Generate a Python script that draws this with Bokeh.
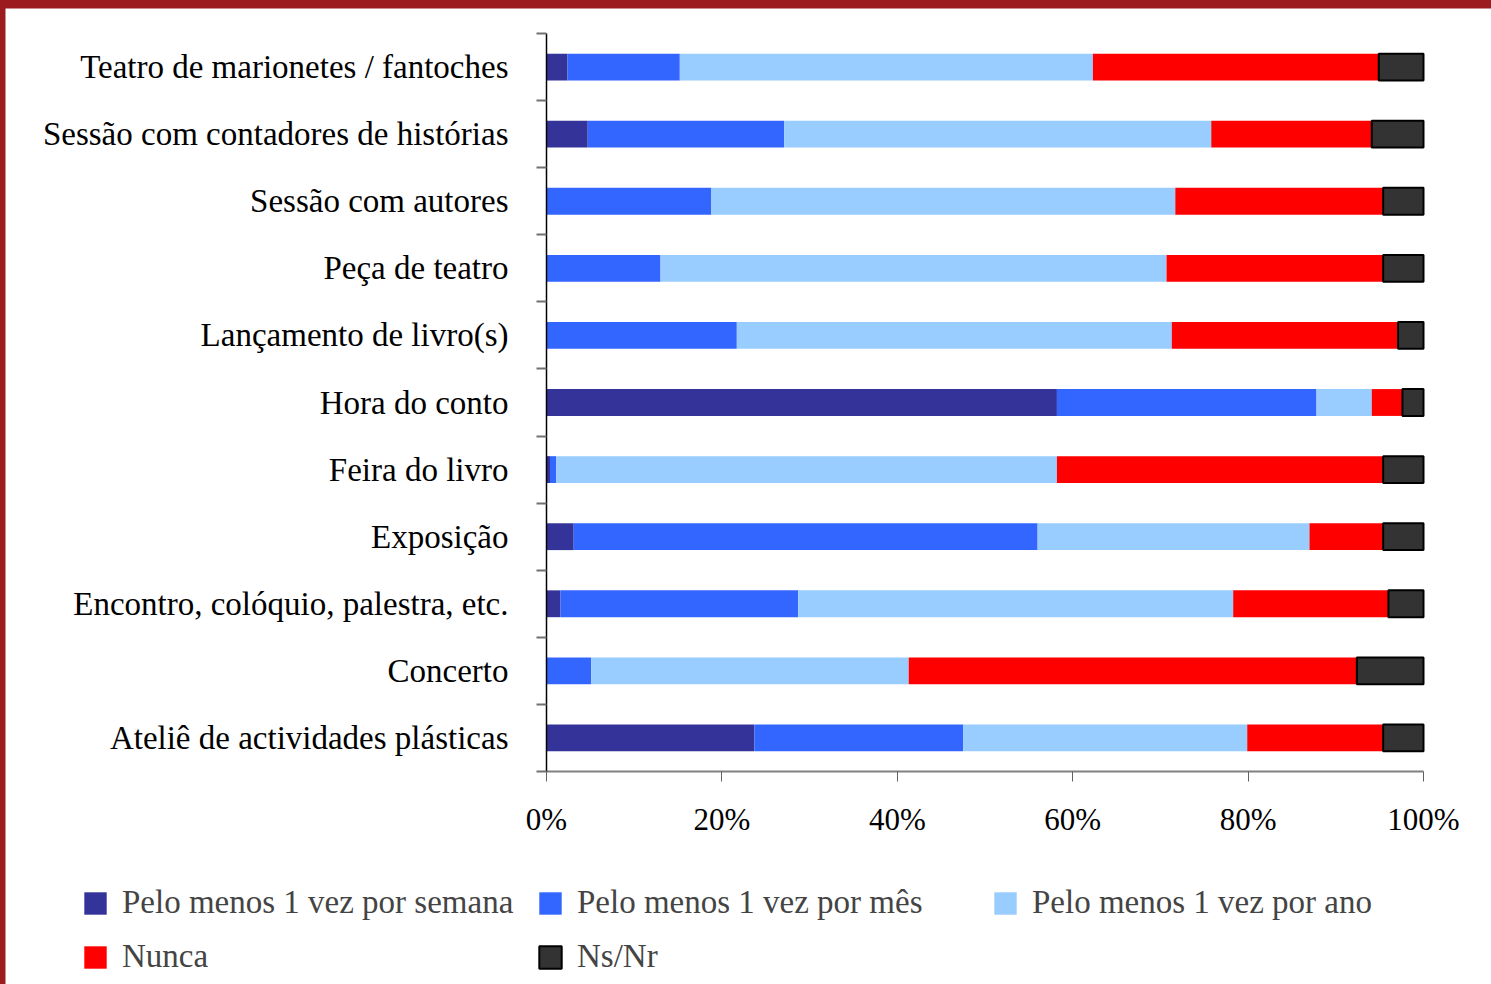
from bokeh.plotting import figure
from bokeh.models import ColumnDataSource, FixedTicker, Legend, LegendItem, LinearAxis, Range1d
from bokeh.layouts import column
from bokeh.embed import file_html
from bokeh.resources import INLINE

# ---- data (top-to-bottom order as shown) ----
categories = [
    "Teatro de marionetes / fantoches",
    "Sessão com contadores de histórias",
    "Sessão com autores",
    "Peça de teatro",
    "Lançamento de livro(s)",
    "Hora do conto",
    "Feira do livro",
    "Exposição",
    "Encontro, colóquio, palestra, etc.",
    "Concerto",
    "Ateliê de actividades plásticas",
]
semana = [2.4, 4.7, 0.0, 0.0, 0.0, 58.2, 0.4, 3.1, 1.6, 0.0, 23.7]
mes    = [12.8, 22.4, 18.8, 13.0, 21.7, 29.6, 0.7, 52.9, 27.1, 5.1, 23.8]
ano    = [47.1, 48.7, 52.9, 57.7, 49.6, 6.3, 57.1, 31.0, 49.6, 36.2, 32.4]
nunca  = [32.6, 18.3, 23.7, 24.7, 25.8, 3.5, 37.2, 8.4, 17.7, 51.1, 15.5]
nsnr   = [5.1, 5.9, 4.6, 4.6, 2.9, 2.4, 4.6, 4.6, 4.0, 7.6, 4.6]

series_names = ["Pelo menos 1 vez por semana", "Pelo menos 1 vez por mês",
                "Pelo menos 1 vez por ano", "Nunca", "Ns/Nr"]
series_vals = [semana, mes, ano, nunca, nsnr]
colors = ["#333399", "#3366FF", "#99CCFF", "#FF0000", "#333333"]
x_ticks = [0, 20, 40, 60, 80, 100]
x_tick_labels = ["0%", "20%", "40%", "60%", "80%", "100%"]

FONT = "Liberation Serif"
n = len(categories)
ypos = [n - i - 0.5 for i in range(n)]

# canvas geometry (pixels): the plotting frame fills the whole canvas, the
# bar area occupies 541..1418 horizontally and 25..763 vertically inside it.
W, H = 1486, 976
BAR_L, BAR_R, BAR_T, BAR_B = 541, 1418, 25, 763
px_x = (BAR_R - BAR_L) / 100.0
px_y = (BAR_B - BAR_T) / n
x_rng = Range1d(-BAR_L / px_x, 100 + (W - BAR_R) / px_x)
y_rng = Range1d(-(H - BAR_B) / px_y, n + BAR_T / px_y)

p = figure(
    frame_width=W, frame_height=H, min_border=0,
    x_range=x_rng, y_range=y_rng,
    output_backend="svg", toolbar_location=None,
    x_axis_location=None, y_axis_location=None,
)
p.margin = (8, 0, 0, 5)
p.outline_line_color = None
p.xgrid.visible = False
p.ygrid.visible = False
p.background_fill_color = "white"
p.border_fill_color = "white"

# stacked bars
left = [0.0] * n
renderers = []
for name, vals, col in zip(series_names, series_vals, colors):
    right = [l + v for l, v in zip(left, vals)]
    src = ColumnDataSource(dict(y=ypos, left=left, right=right))
    if name == "Ns/Nr":
        r = p.hbar(y="y", left="left", right="right", height=0.4, source=src,
                   fill_color=col, line_color="black", line_width=2)
    else:
        r = p.hbar(y="y", left="left", right="right", height=0.4, source=src,
                   fill_color=col, line_color=None)
    renderers.append(r)
    left = right

# x axis (fixed at y = 0)
xa = LinearAxis(ticker=FixedTicker(ticks=x_ticks), fixed_location=0, bounds=(0, 100))
xa.major_label_overrides = {t: l for t, l in zip(x_ticks, x_tick_labels)}
xa.axis_line_color = "#808080"
xa.axis_line_width = 2
xa.major_tick_line_color = "#606060"
xa.major_tick_out = 10
xa.major_tick_in = 0
xa.minor_tick_out = 0
xa.minor_tick_in = 0
xa.major_label_text_font = FONT
xa.major_label_text_font_size = "31px"
xa.major_label_text_color = "black"
xa.major_label_standoff = 20
p.add_layout(xa, "below")

# y axis (fixed at x = 0): labels at category centers, ticks at boundaries
ya = LinearAxis(ticker=FixedTicker(ticks=ypos, minor_ticks=list(range(n + 1))),
                fixed_location=0, bounds=(0, n))
ya.major_label_overrides = {y: c for y, c in zip(ypos, categories)}
ya.axis_line_color = "black"
ya.axis_line_width = 1.5
ya.major_tick_out = 0
ya.major_tick_in = 0
ya.minor_tick_out = 10
ya.minor_tick_in = 0
ya.minor_tick_line_color = "#707070"
ya.minor_tick_line_width = 2
ya.major_label_text_font = FONT
ya.major_label_text_font_size = "33px"
ya.major_label_text_color = "black"
ya.major_label_standoff = 28
p.add_layout(ya, "left")

# legend
items = [LegendItem(label=nm, renderers=[r]) for nm, r in zip(series_names, renderers)]
legend = Legend(items=items, orientation="horizontal", ncols=3,
                location=(76, 9), glyph_width=28, glyph_height=28,
                label_standoff=13, label_width=397, spacing=17,
                label_text_font=FONT, label_text_font_size="33px",
                padding=0, margin=0, border_line_color=None,
                background_fill_alpha=0)
p.add_layout(legend, "center")

layout = column(p, styles={"background-color": "#9B1B1E"})
open("out.html", "w").write(file_html(layout, INLINE))
